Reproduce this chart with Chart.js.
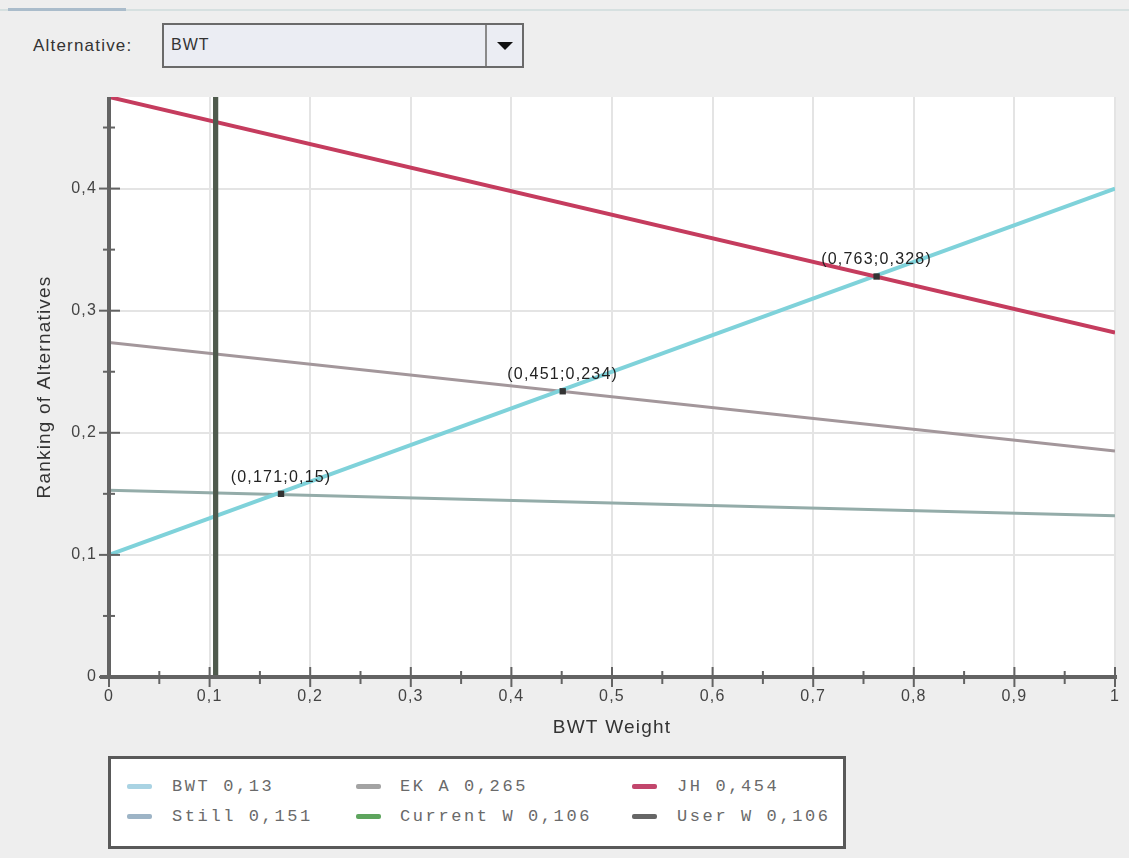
<!DOCTYPE html>
<html><head><meta charset="utf-8">
<script src="https://cdn.jsdelivr.net/npm/chart.js@4"></script>
<style>
html,body{margin:0;padding:0;background:#eeeeee;width:1129px;height:858px;overflow:hidden;font-family:"Liberation Sans",Arial,sans-serif;}
#topline{position:absolute;left:0;top:9px;width:1129px;height:2px;background:#d6e0e0;}
#tab{position:absolute;left:8px;top:8px;width:118px;height:3px;background:#aabccb;}
#altLabel{position:absolute;left:33px;top:36px;font-size:17px;color:#333;letter-spacing:1.2px;}
#combo{position:absolute;left:162px;top:23px;width:362px;height:45px;border:2px solid #6a6a6a;background:#ebedf3;box-sizing:border-box;}
#comboText{position:absolute;left:7px;top:11px;font-size:16px;color:#333;letter-spacing:1px}
#comboBtn{position:absolute;right:0;top:0;width:35px;height:41px;border-left:2px solid #8a8a8a;}
#tri{position:absolute;left:10px;top:17px;width:0;height:0;border-left:8px solid transparent;border-right:8px solid transparent;border-top:8px solid #111;}
#chartWrap{position:absolute;left:0;top:86px;width:1129px;height:660px;}
#legend{position:absolute;left:108px;top:756px;width:738px;height:93px;border:3px solid #595959;background:#fff;box-sizing:border-box;}
.txt{position:absolute;font-family:"Liberation Mono",monospace;font-size:17px;color:#6a6a6a;letter-spacing:2.6px;white-space:nowrap;line-height:20px;}
.sw{position:absolute;width:25px;height:5px;border-radius:2px}
</style>
</head><body>
<div id="topline"></div><div id="tab"></div>
<div id="altLabel">Alternative:</div>
<div id="combo"><div id="comboText">BWT</div><div id="comboBtn"><div id="tri"></div></div></div>
<div id="chartWrap"><canvas id="c"></canvas></div>
<div id="legend"></div>
<script>
// ---- data ----
const weights = [0, 1];
const seriesNames = ["BWT", "EK A", "JH", "Still", "Current W", "User W"];
const bwtRank = [0.1, 0.4];
const ekaRank = [0.274, 0.185];
const jhRank = [0.475, 0.282];
const stillRank = [0.153, 0.132];
const currentWeight = 0.106;
const userWeight = 0.106;
const rankRange = [0, 0.475];
const weightRange = [0, 1];
const legendValues = [0.13, 0.265, 0.454, 0.151, 0.106, 0.106];
const crossX = [0.171, 0.451, 0.763];
const crossY = [0.15, 0.234, 0.328];
const xTitle = "BWT Weight";
const yTitle = "Ranking of Alternatives";
const selectedAlternative = "BWT";

// ---- styles ----
const lineColors = ["#7fd2da", "#a3979b", "#c53c5e", "#94aca9", "#4f5e4c", "#4f5a4d"];
const legendColors = ["#a9d3e3", "#a3a3a3", "#c2466c", "#9db4c6", "#5ea55e", "#666666"];
const lineWidths = [4, 3, 4, 3, 5, 5];
const drawOrder = [3, 5, 2, 6, 1, 0];

function fmt(v){ return String(Math.round(v*1000)/1000).replace('.', ','); }
function isMajor(v){ const q = v/0.1; return Math.abs(q - Math.round(q)) < 1e-6; }
function seg(xs, ys){ return xs.map((x,i)=>({x:x, y:ys[i]})); }

document.getElementById('comboText').textContent = selectedAlternative;

const seriesData = [
  seg(weights, bwtRank),
  seg(weights, ekaRank),
  seg(weights, jhRank),
  seg(weights, stillRank),
  seg([currentWeight, currentWeight], rankRange),
  seg([userWeight, userWeight], rankRange)
];

const datasets = seriesNames.map((n,i)=>({
  label: n, data: seriesData[i], showLine: true, borderColor: lineColors[i],
  backgroundColor: lineColors[i], borderWidth: lineWidths[i], pointRadius: 0,
  pointHoverRadius: 0, order: drawOrder[i] + 1, borderCapStyle: 'butt'
}));
datasets.push({
  label: 'crossings', data: seg(crossX, crossY), showLine: false,
  pointStyle: 'rect', pointRadius: 4.5, backgroundColor: '#333', borderColor: '#333',
  borderWidth: 0, order: 0
});

const deco = {
  id: 'deco',
  beforeDraw(chart){
    const {ctx, chartArea:a} = chart;
    ctx.save(); ctx.fillStyle = '#ffffff';
    ctx.fillRect(a.left, a.top, a.right - a.left, a.bottom - a.top);
    ctx.restore();
    try { ctx.letterSpacing = '1.2px'; } catch(e) {}
  },
  afterDatasetsDraw(chart){
    const {ctx, chartArea:a, scales:{x, y}} = chart;
    ctx.save();
    ctx.strokeStyle = '#636363';
    ctx.lineWidth = 4;
    ctx.beginPath(); ctx.moveTo(a.left, a.top); ctx.lineTo(a.left, a.bottom + 2); ctx.stroke();
    ctx.beginPath(); ctx.moveTo(a.left - 9, a.bottom); ctx.lineTo(a.right + 2, a.bottom); ctx.stroke();
    ctx.lineWidth = 2;
    y.ticks.forEach(t=>{
      const p = y.getPixelForValue(t.value), m = isMajor(t.value);
      ctx.beginPath(); ctx.moveTo(a.left - (m?10:6), p); ctx.lineTo(a.left + (m?11:6), p); ctx.stroke();
    });
    x.ticks.forEach(t=>{
      const p = x.getPixelForValue(t.value), m = isMajor(t.value);
      ctx.beginPath(); ctx.moveTo(p, a.bottom - (m?10:6)); ctx.lineTo(p, a.bottom + (m?10:7)); ctx.stroke();
    });
    // crossing labels
    ctx.fillStyle = '#222';
    ctx.font = '16px "Liberation Sans", Arial, sans-serif';
    ctx.textAlign = 'center'; ctx.textBaseline = 'alphabetic';
    crossX.forEach((cx,i)=>{
      const px = x.getPixelForValue(cx), py = y.getPixelForValue(crossY[i]);
      ctx.fillText('(' + fmt(cx) + ';' + fmt(crossY[i]) + ')', px, py - 12);
    });
    ctx.restore();
  }
};

Chart.defaults.font.family = '"Liberation Sans", Arial, sans-serif';

new Chart(document.getElementById('c'), {
  type: 'scatter',
  data: { datasets: datasets },
  options: {
    responsive: true, maintainAspectRatio: false, animation: false,
    layout: { padding: { top: 11, right: 14, left: 0, bottom: 0 } },
    plugins: { legend: { display: false }, tooltip: { enabled: false } },
    scales: {
      x: {
        type: 'linear', min: weightRange[0], max: weightRange[1],
        afterFit(s){ s.height = 69; s.paddingLeft = 0; s.paddingRight = 0; },
        border: { display: false },
        grid: { drawTicks: false, lineWidth: 2,
          color: c => (c.tick && isMajor(c.tick.value) && c.tick.value > 0) ? '#e4e4e4' : 'rgba(0,0,0,0)' },
        ticks: { stepSize: 0.05, autoSkip: false, maxRotation: 0, padding: 10, color: '#444',
          font: { size: 16 }, callback: v => isMajor(v) ? fmt(v) : '' },
        title: { display: true, text: xTitle, color: '#333', font: { size: 19 }, padding: { top: 0, bottom: 7 } }
      },
      y: {
        type: 'linear', min: rankRange[0], max: rankRange[1],
        afterFit(s){ s.width = 109; s.paddingTop = 0; s.paddingBottom = 0; },
        border: { display: false },
        grid: { drawTicks: false, lineWidth: 2,
          color: c => (c.tick && isMajor(c.tick.value) && c.tick.value > 0) ? '#e4e4e4' : 'rgba(0,0,0,0)' },
        ticks: { stepSize: 0.05, includeBounds: false, autoSkip: false, padding: 12, color: '#444',
          font: { size: 16 }, callback: v => isMajor(v) ? fmt(v) : '' },
        title: { display: true, text: yTitle, color: '#333', font: { size: 19 }, padding: { top: 33, bottom: 0 } }
      }
    }
  },
  plugins: [deco]
});

// ---- legend ----
const legendCols = [[16, 61], [245, 289], [521, 566]];
const legendRows = [28, 58];
const lg = document.getElementById('legend');
seriesNames.forEach((n,i)=>{
  const col = legendCols[i % 3], row = legendRows[Math.floor(i / 3)];
  const sw = document.createElement('div'); sw.className = 'sw';
  sw.style.left = col[0] + 'px'; sw.style.top = (row - 3) + 'px'; sw.style.background = legendColors[i];
  const t = document.createElement('div'); t.className = 'txt';
  t.style.left = col[1] + 'px'; t.style.top = (row - 10) + 'px';
  t.textContent = n + ' ' + fmt(legendValues[i]);
  lg.appendChild(sw); lg.appendChild(t);
});
</script>
</body></html>
